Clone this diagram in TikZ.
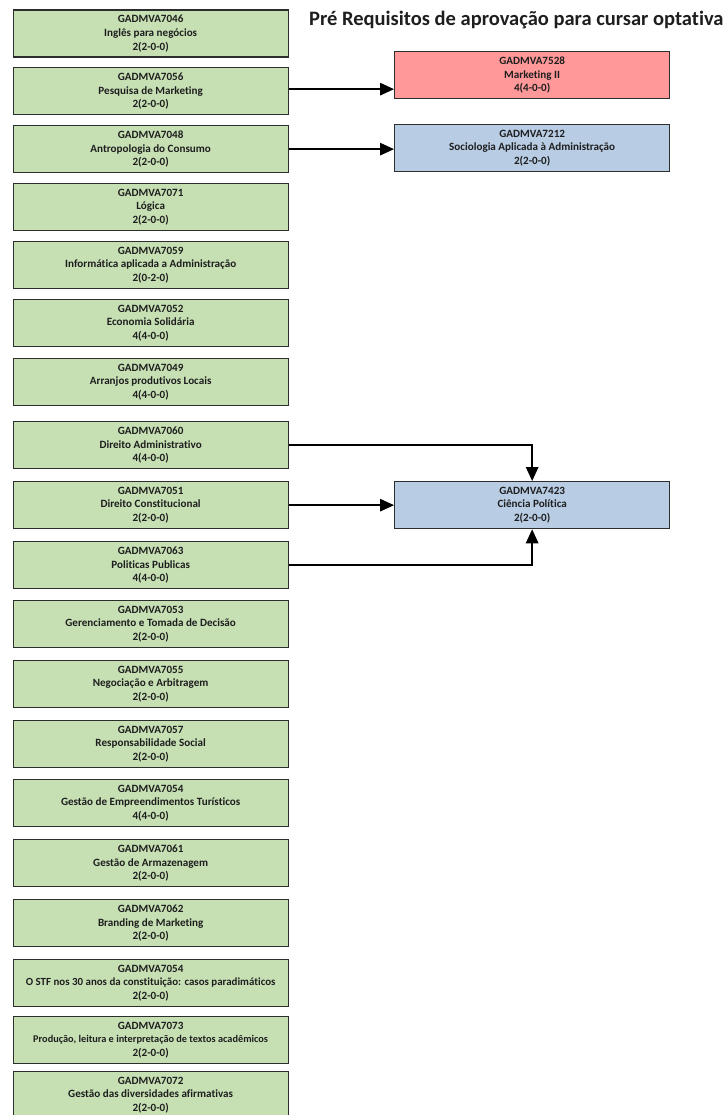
\documentclass[tikz,border=0pt]{standalone}
\usepackage{fontspec}
\setmainfont{Carlito}[Ligatures={NoCommon}]
\usetikzlibrary{arrows.meta}
\definecolor{optgreen}{RGB}{198,224,180}
\definecolor{reqred}{RGB}{255,153,153}
\definecolor{reqblue}{RGB}{184,204,228}
\definecolor{edge}{RGB}{45,45,45}
\definecolor{ink}{RGB}{30,30,30}
\tikzset{
  course/.style={draw=edge, line width=1.3pt, minimum width=275pt, minimum height=47pt,
    inner sep=0pt, align=center, anchor=north west, text=ink,
    font=\fontsize{11.1}{13.8}\selectfont\bfseries},
  optbox/.style={course, fill=optgreen},
  redbox/.style={course, fill=reqred},
  bluebox/.style={course, fill=reqblue},
  link/.style={draw=black, line width=1.4pt, -{Triangle[length=14pt,width=12.5pt]}}
}
\begin{document}
\begin{tikzpicture}[x=1pt,y=-1pt]
\useasboundingbox (0,0) rectangle (726,1115);
% heading
\node[anchor=base west, inner sep=0pt, text=ink, font=\fontsize{20.5}{23}\selectfont\bfseries]
  (title) at (309,26) {Pré Requisitos de aprovação para cursar optativa};
% elective courses
\node[optbox] (c7046) at (12.5,9.5)  {GADMVA7046\\Inglês para negócios\\2(2-0-0)};
\node[optbox] (c7056) at (12.5,67)   {GADMVA7056\\Pesquisa de Marketing\\2(2-0-0)};
\node[optbox] (c7048) at (12.5,125)  {GADMVA7048\\Antropologia do Consumo\\2(2-0-0)};
\node[optbox] (c7071) at (12.5,183)  {GADMVA7071\\Lógica\\2(2-0-0)};
\node[optbox] (c7059) at (12.5,241)  {GADMVA7059\\Informática aplicada a Administração\\2(0-2-0)};
\node[optbox] (c7052) at (12.5,299)  {GADMVA7052\\Economia Solidária\\4(4-0-0)};
\node[optbox] (c7049) at (12.5,358)  {GADMVA7049\\Arranjos produtivos Locais\\4(4-0-0)};
\node[optbox] (c7060) at (12.5,421)  {GADMVA7060\\Direito Administrativo\\4(4-0-0)};
\node[optbox] (c7051) at (12.5,481)  {GADMVA7051\\Direito Constitucional\\2(2-0-0)};
\node[optbox] (c7063) at (12.5,541)  {GADMVA7063\\Politicas Publicas\\4(4-0-0)};
\node[optbox] (c7053) at (12.5,600)  {GADMVA7053\\Gerenciamento e Tomada de Decisão\\2(2-0-0)};
\node[optbox] (c7055) at (12.5,660)  {GADMVA7055\\Negociação e Arbitragem\\2(2-0-0)};
\node[optbox] (c7057) at (12.5,720)  {GADMVA7057\\Responsabilidade Social\\2(2-0-0)};
\node[optbox] (c7054a) at (12.5,779) {GADMVA7054\\Gestão de Empreendimentos Turísticos\\4(4-0-0)};
\node[optbox] (c7061) at (12.5,839)  {GADMVA7061\\Gestão de Armazenagem\\2(2-0-0)};
\node[optbox] (c7062) at (12.5,899)  {GADMVA7062\\Branding de Marketing\\2(2-0-0)};
\node[optbox] (c7054b) at (12.5,959) {GADMVA7054\\{\fontsize{10.9}{13.8}\selectfont O STF nos 30 anos da constituição: casos paradimáticos}\\2(2-0-0)};
\node[optbox] (c7073) at (12.5,1016) {GADMVA7073\\{\fontsize{10.3}{13.8}\selectfont Produção, leitura e interpretação de textos acadêmicos}\\2(2-0-0)};
\node[optbox] (c7072) at (12.5,1071) {GADMVA7072\\Gestão das diversidades afirmativas\\2(2-0-0)};
% courses that require them
\node[redbox]  (c7528) at (394,51)  {GADMVA7528\\Marketing II\\4(4-0-0)};
\node[bluebox] (c7212) at (394,124) {GADMVA7212\\Sociologia Aplicada à Administração\\2(2-0-0)};
\node[bluebox] (c7423) at (394,481) {GADMVA7423\\Ciência Política\\2(2-0-0)};
% prerequisite links
\draw[link] ([yshift=2pt]c7056.east) -- ([yshift=2pt]c7056.east -| c7528.west);
\draw[link] (c7048.east) -- (c7048.east -| c7212.west);
\draw[link] (c7060.east) -| (c7423.north);
\draw[link] (c7051.east) -- (c7423.west);
\draw[link] (c7063.east) -| (c7423.south);
\end{tikzpicture}
\end{document}
